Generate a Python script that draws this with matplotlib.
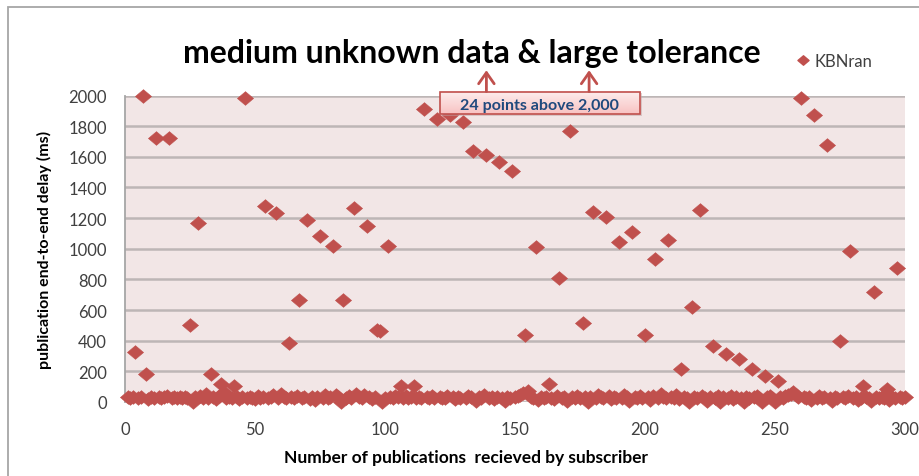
import matplotlib
matplotlib.use("Agg")
import matplotlib.pyplot as plt
from matplotlib.path import Path
from matplotlib.patches import FancyBboxPatch, Rectangle
from matplotlib.colors import LinearSegmentedColormap
import numpy as np

plt.rcParams['font.family'] = ['Lato', 'DejaVu Sans']

# Publication index (1..300) and measured end-to-end delay per publication (ms)
publications = list(range(1, 301))
delay_ms = [
    30, 25, 33, 327, 28, 35, 2000, 180, 22, 31,
    27, 1720, 34, 24, 30, 40, 1720, 26, 32, 29,
    35, 24, 31, 28, 505, 2, 30, 1170, 36, 25,
    50, 27, 185, 30, 22, 38, 120, 65, 24, 33,
    28, 105, 35, 22, 30, 1985, 26, 34, 29, 21,
    38, 27, 32, 1280, 24, 30, 45, 1235, 28, 55,
    33, 26, 385, 31, 25, 36, 667, 29, 34, 1185,
    22, 30, 10, 35, 1080, 28, 48, 26, 33, 1018,
    45, 30, 0, 667, 27, 38, 24, 1265, 50, 31,
    26, 44, 1150, 30, 22, 35, 470, 462, 0, 28,
    1020, 33, 25, 40, 30, 105, 27, 36, 24, 32,
    105, 29, 35, 25, 1910, 31, 27, 38, 26, 1845,
    33, 28, 24, 36, 1870, 30, 22, 34, 29, 1830,
    25, 37, 30, 1640, 8, 33, 28, 45, 1610, 26,
    31, 22, 35, 1565, 28, 5, 33, 26, 1510, 30,
    38, 45, 60, 440, 75, 35, 28, 1010, 10, 32,
    26, 34, 120, 29, 22, 37, 810, 28, 33, 5,
    1770, 30, 24, 36, 28, 515, 33, 3, 30, 1240,
    25, 48, 31, 27, 1205, 36, 22, 33, 29, 1045,
    26, 44, 30, 5, 1110, 33, 27, 38, 25, 435,
    31, 10, 36, 935, 28, 55, 30, 24, 1060, 33,
    27, 45, 22, 215, 34, 28, 0, 620, 31, 26,
    1255, 37, 29, 5, 33, 365, 25, 36, 0, 30,
    315, 27, 42, 22, 33, 280, 28, 3, 35, 26,
    215, 31, 40, 24, 2, 170, 30, 36, 26, 0,
    135, 33, 28, 38, 45, 55, 65, 48, 30, 1985,
    35, 26, 32, 15, 1875, 29, 36, 24, 33, 1675,
    28, 8, 34, 26, 400, 31, 23, 37, 985, 29,
    33, 10, 27, 105, 30, 24, 5, 720, 35, 28,
    31, 26, 85, 15, 34, 28, 875, 32, 25, 30,
]

y_ticks = [0, 200, 400, 600, 800, 1000, 1200, 1400, 1600, 1800, 2000]
x_ticks = [0, 50, 100, 150, 200, 250, 300]

series_name = "KBNran"
title_text = "medium unknown data & large tolerance"
x_label = "Number of publications  recieved by subscriber"
y_label = "publication end-to-end delay (ms)"
note_text = "24 points above 2,000"

marker_color = "#C0504D"
tick_color = "#404040"

# slightly wide diamond marker
diamond = Path([(-1.0, 0.0), (0.0, 0.85), (1.0, 0.0), (0.0, -0.85), (-1.0, 0.0)],
               [Path.MOVETO, Path.LINETO, Path.LINETO, Path.LINETO, Path.CLOSEPOLY])

W, H = 920, 477
fig = plt.figure(figsize=(W / 100, H / 100), dpi=100)

# outer chart frame
fig.patches.append(Rectangle((8 / W, -0.1), 1.2, 1 - 8 / H + 0.1, transform=fig.transFigure,
                             fill=False, edgecolor="#A6A6A6", linewidth=1.3))

left, right, top, bottom = 125, 905, 96.5, 403
ax = fig.add_axes([left / W, 1 - bottom / H, (right - left) / W, (bottom - top) / H])
ax.set_facecolor("#F2E6E6")
ax.set_yticks(y_ticks)
ax.set_xticks(x_ticks)
ax.yaxis.grid(True, color="#BDB6B6", linewidth=1.8)
ax.set_axisbelow(True)
for s in ("top", "right", "bottom"):
    ax.spines[s].set_visible(False)
ax.spines["left"].set_color("#A6A6A6")
ax.spines["left"].set_linewidth(1.3)
ax.tick_params(length=0, labelsize=12, labelcolor=tick_color)
ax.tick_params(axis="y", pad=13)
ax.tick_params(axis="x", pad=14)

ax.scatter(publications, delay_ms, marker=diamond, s=135, color=marker_color,
           edgecolors=marker_color, linewidths=0.4, clip_on=False, zorder=3,
           label=series_name)

ax.set_ylabel(y_label, fontsize=11.5, fontweight="bold", labelpad=12)
fig.text(466 / W, 1 - 458 / H, x_label, ha="center", va="center",
         fontsize=12.5, fontweight="bold", color="black")

fig.text(472 / W, 1 - 53 / H, title_text, ha="center", va="center",
         fontsize=23, fontweight="bold", color="black")

# legend
fig.legend(handles=[plt.Line2D([], [], linestyle="none", marker=diamond, markersize=8,
                               color=marker_color)],
           labels=[series_name], loc="center left", bbox_to_anchor=(781 / W, 1 - 62 / H),
           frameon=False, fontsize=12, handlelength=0.8, handletextpad=0.3,
           labelcolor=tick_color)

# note box about off-scale points, with arrows pointing up
box_x0, box_x1 = 121, 198
box_y0, box_y1 = 1878, 2026
shadow = FancyBboxPatch((box_x0 + 0.8, box_y0 - 12), box_x1 - box_x0, box_y1 - box_y0,
                        boxstyle="square,pad=0", facecolor="#BFA5A5", edgecolor="none",
                        alpha=0.5, clip_on=False, zorder=4)
ax.add_patch(shadow)
grad = np.linspace(0, 1, 50).reshape(-1, 1)
cmap = LinearSegmentedColormap.from_list("note", ["#F8C2C2", "#FDEEEE"])
ax.imshow(grad, extent=(box_x0, box_x1, box_y0, box_y1), origin="lower",
          cmap=cmap, aspect="auto", zorder=5, clip_on=False)
ax.set_xlim(0, 300)
ax.set_ylim(0, 2000)
box = Rectangle((box_x0, box_y0), box_x1 - box_x0, box_y1 - box_y0, fill=False,
                edgecolor="#C0504D", linewidth=1.2, clip_on=False, zorder=6)
ax.add_patch(box)
ax.text((box_x0 + box_x1) / 2, (box_y0 + box_y1) / 2 - 12, note_text, ha="center",
        va="center", fontsize=11.5, fontweight="bold", color="#1F497D", zorder=7)
for ax_x in (139, 178.5):
    ax.annotate("", xy=(ax_x, 2165), xytext=(ax_x, box_y1), annotation_clip=False,
                arrowprops=dict(arrowstyle="->,head_length=0.5,head_width=0.35",
                                color="#C0504D", lw=2, mutation_scale=16,
                                shrinkA=0, shrinkB=0), zorder=6)

fig.savefig("out.png", dpi=100)
